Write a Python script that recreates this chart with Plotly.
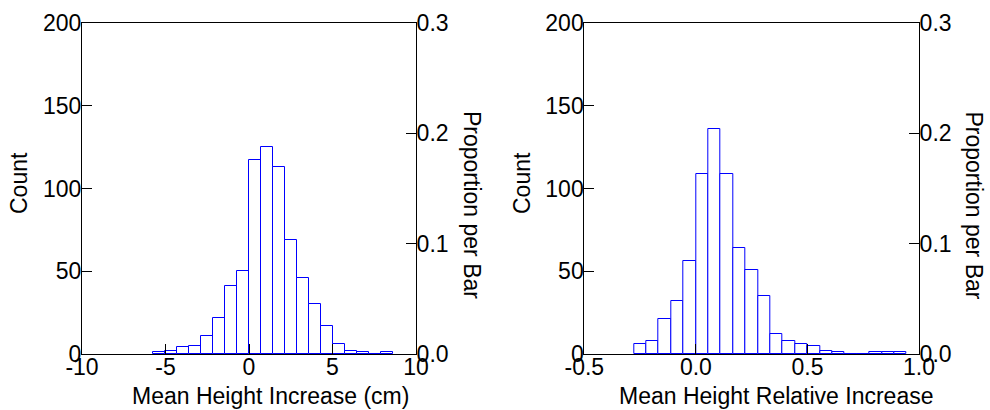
import plotly.graph_objects as go

# ---- data ----
left_bin_start = -5.76
left_bin_width = 0.72
left_counts = [1, 2, 4, 5, 11, 22, 41, 50, 117, 125, 113, 69, 46, 30, 17, 6, 2, 1, 0, 1]

right_bin_start = -5 / 18
right_bin_width = 1 / 18
right_counts = [6, 8, 21, 32, 56, 109, 136, 109, 64, 51, 35, 12, 8, 6, 5, 2, 1, 0, 0, 1, 1, 1]

left_xticks = [-10, -5, 0, 5, 10]
left_xticktext = ["-10", "-5", "0", "5", "10"]
right_xticks = [-0.5, 0.0, 0.5, 1.0]
right_xticktext = ["-0.5", "0.0", "0.5", "1.0"]
count_ticks = [0, 50, 100, 150, 200]
prop_ticks = [0.0, 0.1, 0.2, 0.3]
prop_ticktext = ["0.0", "0.1", "0.2", "0.3"]

left_xtitle = "Mean Height Increase (cm)"
right_xtitle = "Mean Height Relative Increase"

W, H = 990, 410
FONT = "Liberation Sans, Arial, sans-serif"
FS = 23

left_centers = [left_bin_start + left_bin_width * (i + 0.5) for i in range(len(left_counts))]
right_centers = [right_bin_start + right_bin_width * (i + 0.5) for i in range(len(right_counts))]

fig = go.Figure()
fig.add_trace(go.Bar(x=left_centers, y=left_counts, width=left_bin_width,
                     marker=dict(color="white", line=dict(color="#0000FF", width=1)),
                     xaxis="x", yaxis="y", showlegend=False))
fig.add_trace(go.Bar(x=right_centers, y=right_counts, width=right_bin_width,
                     marker=dict(color="white", line=dict(color="#0000FF", width=1)),
                     xaxis="x2", yaxis="y3", showlegend=False))
# invisible traces to register the proportion axes
fig.add_trace(go.Scatter(x=[None], y=[None], xaxis="x", yaxis="y2", showlegend=False))
fig.add_trace(go.Scatter(x=[None], y=[None], xaxis="x2", yaxis="y4", showlegend=False))

px = lambda v: v / W
py = lambda v: (H - v) / H

ydom = [py(354), py(23)]
common = dict(showgrid=False, zeroline=False, showline=True, linecolor="black", linewidth=1,
              ticks="inside", ticklen=10, tickcolor="black", tickwidth=1, automargin=False,
              tickfont=dict(family=FONT, size=FS, color="black"))
ycommon = dict(common, ticklabelstandoff=-5)
xcommon = dict(common, ticklabelstandoff=-8)

fig.update_layout(
    width=W, height=H, autosize=False,
    margin=dict(l=0, r=0, t=0, b=0, pad=0),
    paper_bgcolor="white", plot_bgcolor="white",
    bargap=0, barmode="overlay",
    font=dict(family=FONT, size=FS, color="black"),
    xaxis=dict(domain=[px(82), px(416)], range=[-10, 10], tickvals=left_xticks,
               ticktext=left_xticktext, anchor="y", mirror=True, **xcommon),
    yaxis=dict(domain=ydom, range=[0, 200], tickvals=count_ticks, anchor="x", **ycommon),
    yaxis2=dict(range=[0, 0.3], tickvals=prop_ticks, ticktext=prop_ticktext, overlaying="y",
                side="right", anchor="x", **ycommon),
    xaxis2=dict(domain=[px(584.3), px(919)], range=[-0.5, 1.0], tickvals=right_xticks,
                ticktext=right_xticktext, anchor="y3", mirror=True, **xcommon),
    yaxis3=dict(domain=ydom, range=[0, 200], tickvals=count_ticks, anchor="x2", **ycommon),
    yaxis4=dict(range=[0, 0.3], tickvals=prop_ticks, ticktext=prop_ticktext, overlaying="y3",
                side="right", anchor="x2", **ycommon),
)

ann = dict(xref="paper", yref="paper", showarrow=False,
           font=dict(family=FONT, size=FS, color="black"))
fig.add_annotation(text="Count", x=px(19), y=py(183), textangle=-90,
                   xanchor="center", yanchor="middle", **ann)
fig.add_annotation(text="Proportion per Bar", x=px(472), y=py(205), textangle=90,
                   xanchor="center", yanchor="middle", **ann)
fig.add_annotation(text="Count", x=px(522), y=py(183), textangle=-90,
                   xanchor="center", yanchor="middle", **ann)
fig.add_annotation(text="Proportion per Bar", x=px(973.5), y=py(205), textangle=90,
                   xanchor="center", yanchor="middle", **ann)
fig.add_annotation(text=left_xtitle, x=px(270), y=py(396),
                   xanchor="center", yanchor="middle", **ann)
fig.add_annotation(text=right_xtitle, x=px(776.7), y=py(396),
                   xanchor="center", yanchor="middle", **ann)

fig.write_html("out.html")
